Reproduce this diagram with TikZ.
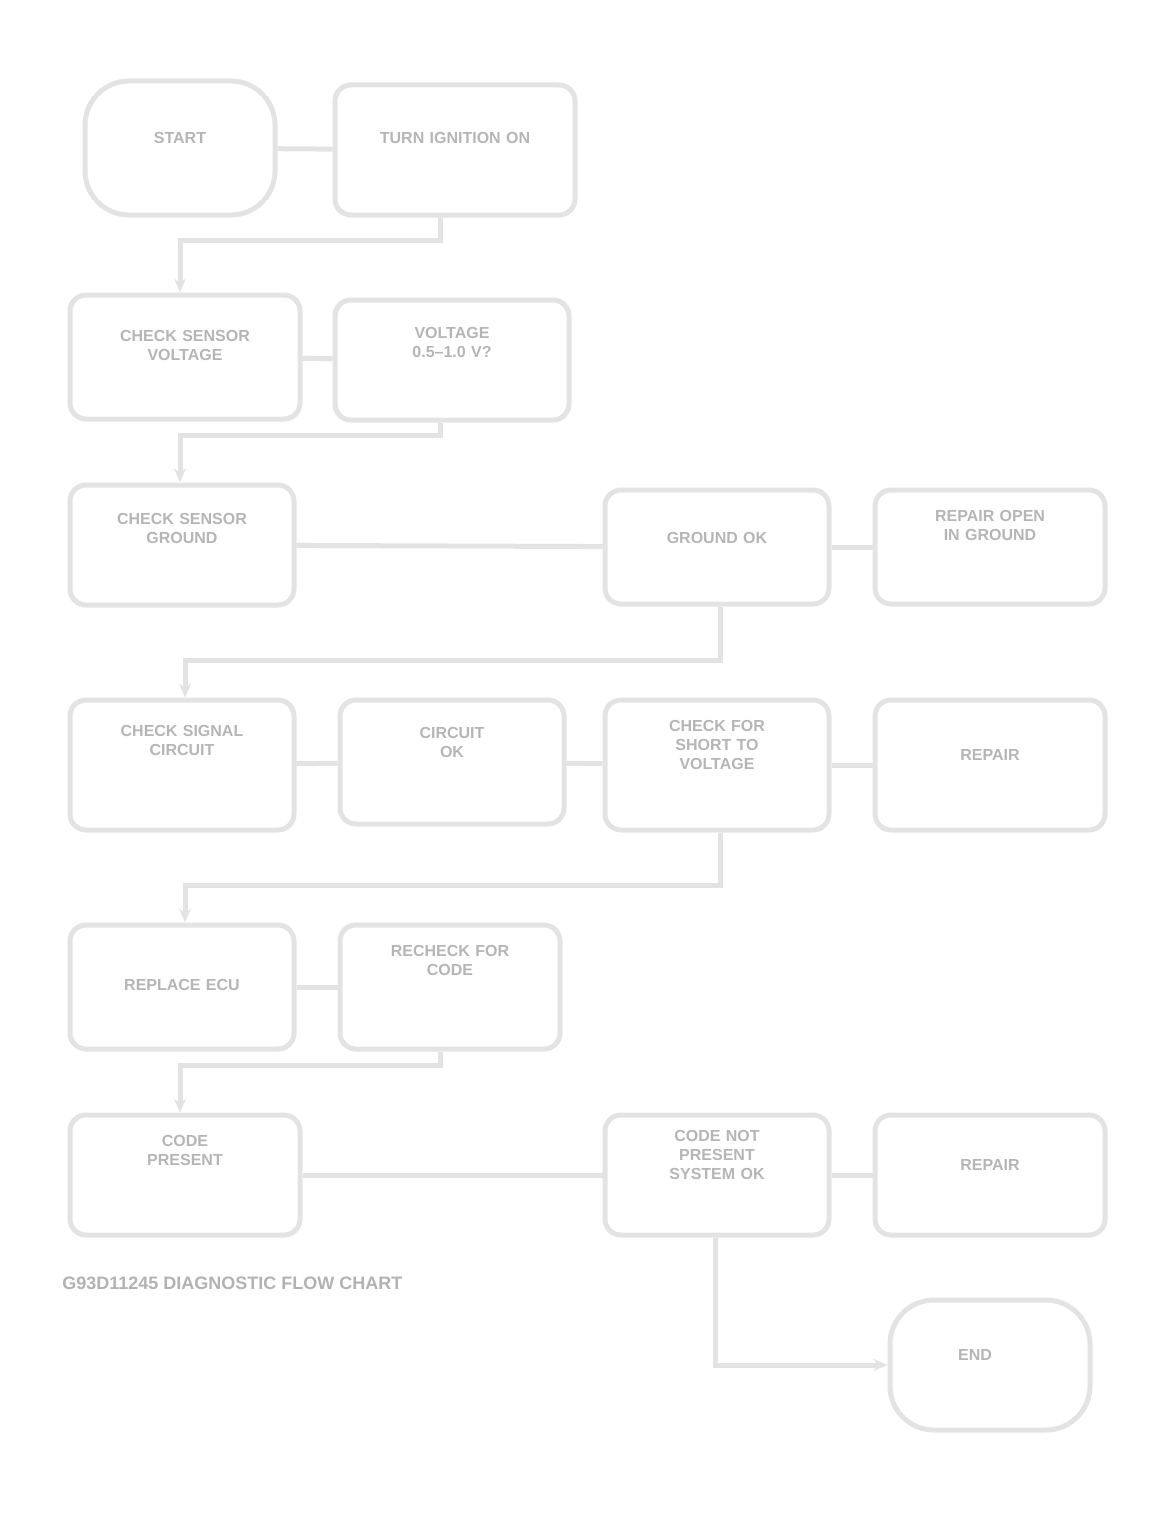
\documentclass[tikz,border=0pt]{standalone}
\usepackage{fontspec}
\setmainfont{Liberation Sans}
\usetikzlibrary{arrows.meta}
\tikzset{
  box/.style={draw=gray!22, line width=2.5pt, rounded corners=8pt, inner sep=0pt},
  term/.style={box, rounded corners=22pt},
  lbl/.style={text=gray!58, font=\bfseries\fontsize{8}{9.5}\selectfont, align=center, text width=92pt, inner sep=0pt},
  wire/.style={draw=gray!22, line width=2.5pt},
  arr/.style={wire, -{Stealth[length=7pt,width=6pt]}},
  capt/.style={text=gray!60, font=\bfseries\fontsize{9}{10}\selectfont, anchor=west, inner sep=0pt}
}
\begin{document}
\begin{tikzpicture}[x=0.5pt,y=-0.5pt]
\useasboundingbox (0,0) rectangle (1162,1525);
% row 1
\node[term, minimum width=95pt, minimum height=67pt] (A) at (180,148) {};
\node[box, minimum width=120pt, minimum height=65pt] (B) at (455,150) {};
% row 2
\node[box, minimum width=115pt, minimum height=62pt] (C) at (185,357) {};
\node[box, minimum width=117pt, minimum height=60pt] (D) at (452,360) {};
% row 3
\node[box, minimum width=112pt, minimum height=60pt] (E) at (182,545) {};
\node[box, minimum width=112pt, minimum height=57pt] (F) at (717,547) {};
\node[box, minimum width=115pt, minimum height=57pt] (G) at (990,547) {};
% row 4
\node[box, minimum width=112pt, minimum height=65pt] (H) at (182,765) {};
\node[box, minimum width=112pt, minimum height=62pt] (I) at (452,762) {};
\node[box, minimum width=112pt, minimum height=65pt] (J) at (717,765) {};
\node[box, minimum width=115pt, minimum height=65pt] (K) at (990,765) {};
% row 5
\node[box, minimum width=112pt, minimum height=62pt] (L) at (182,987) {};
\node[box, minimum width=110pt, minimum height=62pt] (M) at (450,987) {};
% row 6
\node[box, minimum width=115pt, minimum height=60pt] (N) at (185,1175) {};
\node[box, minimum width=112pt, minimum height=60pt] (O) at (717,1175) {};
\node[box, minimum width=115pt, minimum height=60pt] (P) at (990,1175) {};
\node[term, minimum width=100pt, minimum height=65pt] (Q) at (990,1365) {};

% labels
\node[lbl] (tA) at (180,138) {START};
\node[lbl] (tB) at (455,138) {TURN IGNITION ON};
\node[lbl] (tC) at (185,345) {CHECK SENSOR\\ VOLTAGE};
\node[lbl] (tD) at (452,342) {VOLTAGE\\ 0.5--1.0 V?};
\node[lbl] (tE) at (182,528) {CHECK SENSOR\\ GROUND};
\node[lbl] (tF) at (717,538) {GROUND OK};
\node[lbl] (tG) at (990,525) {REPAIR OPEN\\ IN GROUND};
\node[lbl] (tH) at (182,740) {CHECK SIGNAL\\ CIRCUIT};
\node[lbl] (tI) at (452,742) {CIRCUIT\\ OK};
\node[lbl] (tJ) at (717,745) {CHECK FOR\\ SHORT TO\\ VOLTAGE};
\node[lbl] (tK) at (990,755) {REPAIR};
\node[lbl] (tL) at (182,985) {REPLACE ECU};
\node[lbl] (tM) at (450,960) {RECHECK FOR\\ CODE};
\node[lbl] (tN) at (185,1150) {CODE\\ PRESENT};
\node[lbl] (tO) at (717,1155) {CODE NOT\\ PRESENT\\ SYSTEM OK};
\node[lbl] (tP) at (990,1165) {REPAIR};
\node[lbl] (tQ) at (975,1355) {END};
\node[capt] (caption) at (62,1283) {G93D11245 DIAGNOSTIC FLOW CHART};

% connectors
\draw[wire] (A) -- (B);
\draw[arr] (B.south -| 440,0) |- (180,240) -- (C.north -| 180,0);
\draw[wire] (C) -- (D);
\draw[arr] (D.south -| 440,0) |- (180,435) -- (E.north -| 180,0);
\draw[wire] (E) -- (F);
\draw[wire] (F) -- (G);
\draw[arr] (F.south -| 720,0) |- (185,660) -- (H.north -| 185,0);
\draw[wire] (H) -- (I);
\draw[wire] (I) -- (J);
\draw[wire] (J) -- (K);
\draw[arr] (J.south -| 720,0) |- (185,885) -- (L.north -| 185,0);
\draw[wire] (L) -- (M);
\draw[arr] (M.south -| 440,0) |- (180,1065) -- (N.north -| 180,0);
\draw[wire] (N) -- (O);
\draw[wire] (O) -- (P);
\draw[arr] (O.south -| 715,0) |- (Q.west);
\end{tikzpicture}
\end{document}
